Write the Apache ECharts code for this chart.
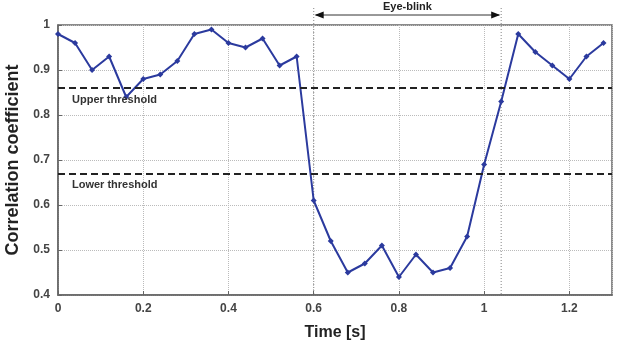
<!DOCTYPE html>
<html>
<head>
<meta charset="utf-8">
<script src="https://cdn.jsdelivr.net/npm/echarts@6/dist/echarts.min.js"></script>
<style>
  html, body { margin: 0; padding: 0; background: #fff; }
  #chart { width: 620px; height: 344px; }
</style>
</head>
<body>
<div id="chart"></div>
<script>
// time in seconds, sampled every 0.04 s
var times = [0, 0.04, 0.08, 0.12, 0.16, 0.2, 0.24, 0.28, 0.32, 0.36, 0.4, 0.44, 0.48, 0.52, 0.56,
  0.6, 0.64, 0.68, 0.72, 0.76, 0.8, 0.84, 0.88, 0.92, 0.96, 1, 1.04, 1.08, 1.12, 1.16, 1.2, 1.24, 1.28]
var correlation = [0.98, 0.96, 0.90, 0.93, 0.84, 0.88, 0.89, 0.92, 0.98, 0.99, 0.96, 0.95, 0.97, 0.91, 0.93,
  0.61, 0.52, 0.45, 0.47, 0.51, 0.44, 0.49, 0.45, 0.46, 0.53, 0.69, 0.83, 0.98, 0.94, 0.91, 0.88, 0.93, 0.96]
var upperThreshold = 0.856
var lowerThreshold = 0.668
var eyeBlink = [0.6, 1.04]
var eyeBlinkLabel = 'Eye-blink'

var myChart = echarts.init(document.getElementById('chart'))

var option = {
  animation: false,
  grid: { left: 58, right: 8, top: 25, bottom: 49, show: true, borderColor: '#666', borderWidth: 1.5, outerBoundsMode: 'none', containLabel: false },
  xAxis: {
    type: 'value', min: 0, max: 1.3, interval: 0.2,
    name: 'Time [s]', nameLocation: 'middle', nameGap: 30,
    nameTextStyle: { fontFamily: 'Liberation Sans', fontWeight: 'bold', fontSize: 16, color: '#222' },
    axisLine: { lineStyle: { color: '#666', width: 1.5 } },
    axisTick: { inside: true, length: 4, lineStyle: { color: '#666' } },
    axisLabel: { showMaxLabel: false, fontFamily: 'Liberation Sans', fontWeight: 'bold', fontSize: 12, color: '#444', margin: 8 },
    splitLine: { lineStyle: { color: '#bbb', type: 'dotted' } }
  },
  yAxis: {
    type: 'value', min: 0.4, max: 1, interval: 0.1,
    name: 'Correlation coefficient', nameLocation: 'middle', nameGap: 36,
    nameTextStyle: { fontFamily: 'Liberation Sans', fontWeight: 'bold', fontSize: 18, color: '#222' },
    axisLine: { show: true, lineStyle: { color: '#666', width: 1.5 } },
    axisTick: { show: true, inside: true, length: 4, lineStyle: { color: '#666' } },
    axisLabel: { fontFamily: 'Liberation Sans', fontWeight: 'bold', fontSize: 12, color: '#444', margin: 8 },
    splitLine: { lineStyle: { color: '#bbb', type: 'dotted' } }
  },
  series: [{
    type: 'line',
    data: times.map(function (t, i) { return [t, correlation[i]] }),
    symbol: 'diamond', symbolSize: 6,
    lineStyle: { color: '#2b3a9e', width: 2 },
    itemStyle: { color: '#2b3a9e' },
    markLine: {
      silent: true, symbol: 'none',
      lineStyle: { color: '#222', type: [7, 4], width: 2 },
      label: {
        position: 'insideStartBottom', formatter: '{b}',
        fontFamily: 'Liberation Sans', fontWeight: 'bold', fontSize: 11, color: '#333', distance: [14, 6]
      },
      data: [
        { name: 'Upper threshold', yAxis: upperThreshold },
        { name: 'Lower threshold', yAxis: lowerThreshold }
      ]
    }
  }]
}
myChart.setOption(option)

// eye-blink marker above the plot
var pA = myChart.convertToPixel({ gridIndex: 0 }, [eyeBlink[0], 0.4])
var pB = myChart.convertToPixel({ gridIndex: 0 }, [eyeBlink[1], 0.4])
var arrowY = 15
myChart.setOption({
  graphic: [
    { type: 'line', shape: { x1: pA[0], y1: 8, x2: pA[0], y2: pA[1] }, style: { stroke: '#999', lineDash: [1, 2], lineWidth: 1.2 } },
    { type: 'line', shape: { x1: pB[0], y1: 8, x2: pB[0], y2: pB[1] }, style: { stroke: '#999', lineDash: [1, 2], lineWidth: 1.2 } },
    { type: 'line', shape: { x1: pA[0] + 2, y1: arrowY, x2: pB[0] - 2, y2: arrowY }, style: { stroke: '#333', lineWidth: 1 } },
    { type: 'polygon', shape: { points: [[pA[0] + 1, arrowY], [pA[0] + 10, arrowY - 3.5], [pA[0] + 10, arrowY + 3.5]] }, style: { fill: '#111' } },
    { type: 'polygon', shape: { points: [[pB[0] - 1, arrowY], [pB[0] - 10, arrowY - 3.5], [pB[0] - 10, arrowY + 3.5]] }, style: { fill: '#111' } },
    { type: 'text', x: (pA[0] + pB[0]) / 2, y: 7, style: { text: eyeBlinkLabel, align: 'center', verticalAlign: 'middle', fontFamily: 'Liberation Sans', fontWeight: 'bold', fontSize: 11, fill: '#222' } }
  ]
})

window.addEventListener('resize', function () { myChart.resize() })
</script>
</body>
</html>
